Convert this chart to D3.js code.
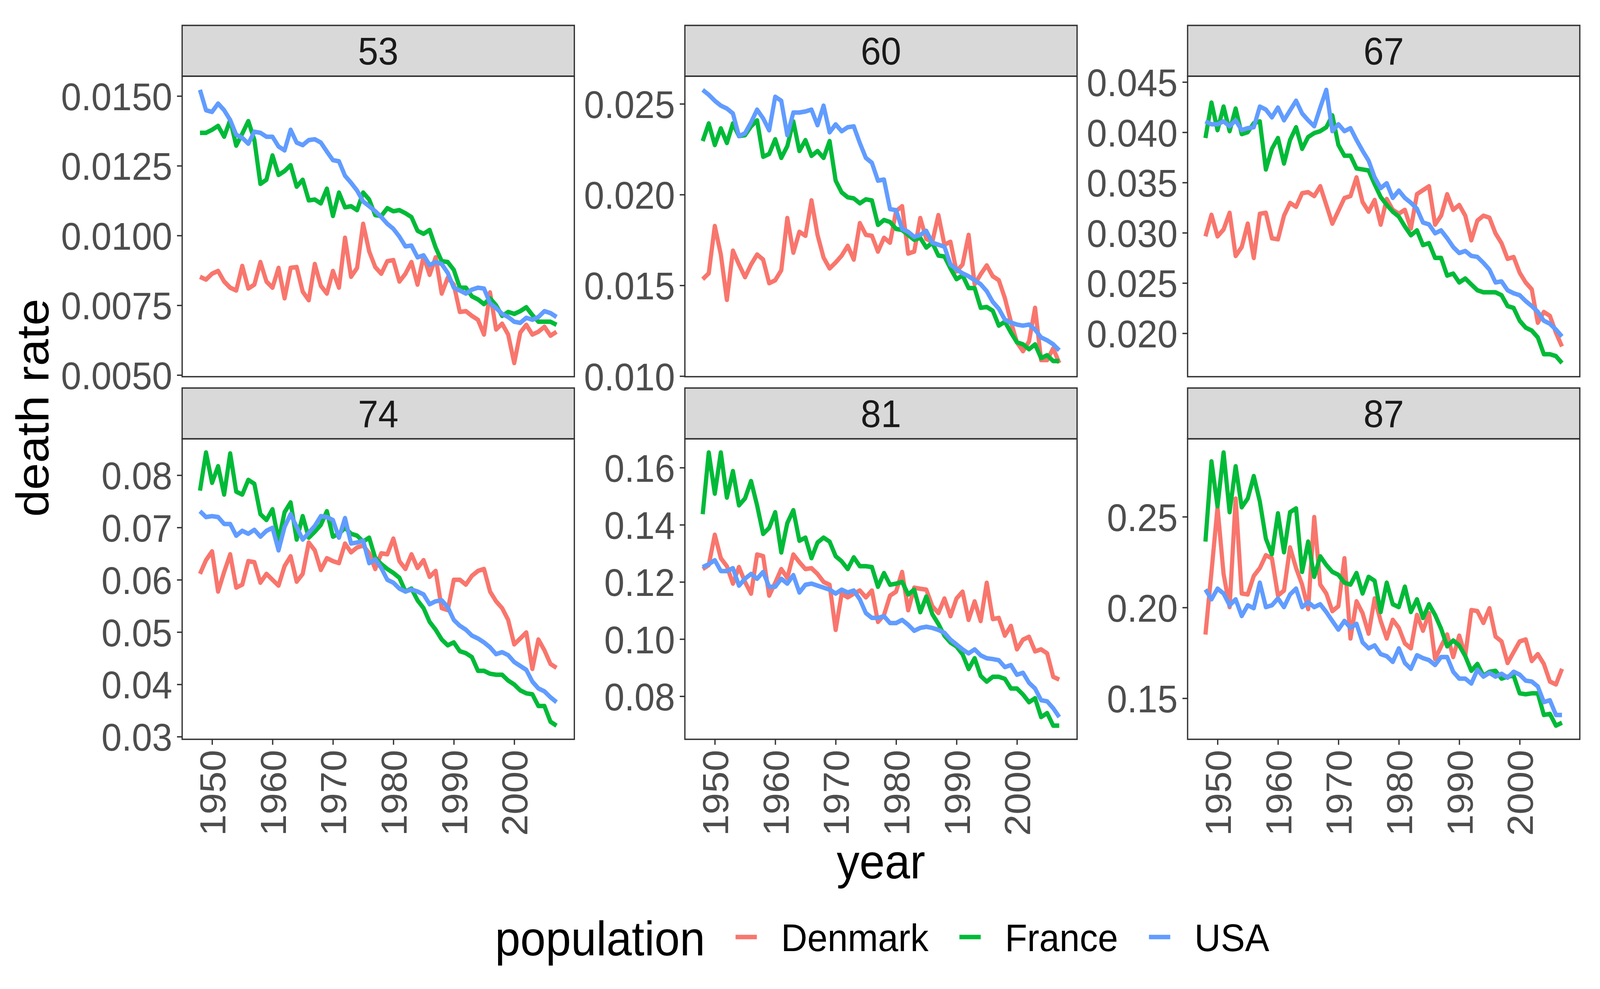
<!DOCTYPE html>
<html>
<head>
<meta charset="utf-8">
<script src="https://cdn.jsdelivr.net/npm/d3@7"></script>
<style>
  html, body { margin: 0; padding: 0; background: #fff; overflow: hidden; }
  svg { display: block; width: 100vw; height: 100vh; }
</style>
</head>
<body>
<svg id="chart"></svg>
<script>
let width = 4357;
let height = 2531;
let font = '"Liberation Sans", Arial, sans-serif';

let years = [1948, 1949, 1950, 1951, 1952, 1953, 1954, 1955, 1956, 1957,
             1958, 1959, 1960, 1961, 1962, 1963, 1964, 1965, 1966, 1967,
             1968, 1969, 1970, 1971, 1972, 1973, 1974, 1975, 1976, 1977,
             1978, 1979, 1980, 1981, 1982, 1983, 1984, 1985, 1986, 1987,
             1988, 1989, 1990, 1991, 1992, 1993, 1994, 1995, 1996, 1997,
             1998, 1999, 2000, 2001, 2002, 2003, 2004, 2005, 2006, 2007];
let ages = ['53', '60', '67', '74', '81', '87'];
let populations = ['Denmark', 'France', 'USA'];
let colors = ['#F8766D', '#00BA38', '#619CFF'];
let xTicks = [1950, 1960, 1970, 1980, 1990, 2000];

// age 53
let denmark53 = [0.00852, 0.00842, 0.00863, 0.00873, 0.00835, 0.00813, 0.00803, 0.00891, 0.00810, 0.00824,
                 0.00905, 0.00835, 0.00813, 0.00884, 0.00775, 0.00884, 0.00887, 0.00799, 0.00768, 0.00898,
                 0.00820, 0.00792, 0.00873, 0.00813, 0.00992, 0.00852, 0.00884, 0.01042, 0.00943, 0.00887,
                 0.00863, 0.00908, 0.00912, 0.00835, 0.00863, 0.00905, 0.00824, 0.00926, 0.00859, 0.00922,
                 0.00792, 0.00849, 0.00824, 0.00726, 0.00729, 0.00712, 0.00698, 0.00645, 0.00796, 0.00663,
                 0.00684, 0.00645, 0.00543, 0.00652, 0.00680, 0.00645, 0.00655, 0.00673, 0.00641, 0.00655];
let france53 = [0.01368, 0.01368, 0.01379, 0.01393, 0.01354, 0.01414, 0.01322, 0.01365, 0.01410, 0.01343,
                0.01185, 0.01200, 0.01287, 0.01217, 0.01231, 0.01252, 0.01175, 0.01200, 0.01126, 0.01129,
                0.01115, 0.01168, 0.01070, 0.01154, 0.01101, 0.01105, 0.01091, 0.01154, 0.01129, 0.01073,
                0.01070, 0.01098, 0.01087, 0.01091, 0.01080, 0.01066, 0.01017, 0.01006, 0.01020, 0.00957,
                0.00908, 0.00905, 0.00877, 0.00813, 0.00813, 0.00782, 0.00771, 0.00754, 0.00775, 0.00750,
                0.00712, 0.00726, 0.00719, 0.00729, 0.00743, 0.00715, 0.00691, 0.00691, 0.00691, 0.00680];
let usa53 = [0.01522, 0.01449, 0.01443, 0.01473, 0.01449, 0.01414, 0.01361, 0.01350, 0.01329, 0.01372,
             0.01368, 0.01354, 0.01354, 0.01319, 0.01305, 0.01379, 0.01333, 0.01324, 0.01342, 0.01345,
             0.01333, 0.01301, 0.01270, 0.01266, 0.01214, 0.01189, 0.01161, 0.01122, 0.01105, 0.01087,
             0.01066, 0.01042, 0.01024, 0.00996, 0.00961, 0.00964, 0.00922, 0.00929, 0.00894, 0.00905,
             0.00898, 0.00866, 0.00813, 0.00803, 0.00792, 0.00806, 0.00813, 0.00810, 0.00757, 0.00740,
             0.00719, 0.00708, 0.00691, 0.00687, 0.00705, 0.00698, 0.00708, 0.00729, 0.00722, 0.00708];

// age 60
let denmark60 = [0.01534, 0.01566, 0.01827, 0.01670, 0.01420, 0.01691, 0.01615, 0.01545, 0.01615, 0.01670,
                 0.01642, 0.01512, 0.01528, 0.01583, 0.01871, 0.01680, 0.01795, 0.01773, 0.01968, 0.01778,
                 0.01653, 0.01593, 0.01626, 0.01664, 0.01718, 0.01642, 0.01843, 0.01778, 0.01773, 0.01686,
                 0.01762, 0.01735, 0.01909, 0.01936, 0.01675, 0.01686, 0.01871, 0.01756, 0.01740, 0.01887,
                 0.01724, 0.01740, 0.01577, 0.01615, 0.01778, 0.01506, 0.01561, 0.01610, 0.01550, 0.01528,
                 0.01430, 0.01300, 0.01186, 0.01137, 0.01191, 0.01376, 0.01088, 0.01088, 0.01153, 0.01072];
let france60 = [0.02295, 0.02392, 0.02273, 0.02365, 0.02284, 0.02392, 0.02322, 0.02327, 0.02376, 0.02409,
                0.02208, 0.02224, 0.02305, 0.02202, 0.02267, 0.02403, 0.02240, 0.02300, 0.02213, 0.02240,
                0.02202, 0.02295, 0.02077, 0.02012, 0.01985, 0.01979, 0.01952, 0.01974, 0.01968, 0.01833,
                0.01860, 0.01849, 0.01811, 0.01805, 0.01778, 0.01751, 0.01762, 0.01708, 0.01735, 0.01664,
                0.01659, 0.01593, 0.01534, 0.01555, 0.01485, 0.01485, 0.01376, 0.01381, 0.01360, 0.01278,
                0.01300, 0.01240, 0.01186, 0.01175, 0.01148, 0.01175, 0.01099, 0.01115, 0.01083, 0.01083];
let usa60 = [0.02577, 0.02550, 0.02517, 0.02490, 0.02474, 0.02447, 0.02322, 0.02338, 0.02398, 0.02468,
             0.02420, 0.02354, 0.02539, 0.02517, 0.02327, 0.02452, 0.02452, 0.02458, 0.02468, 0.02382,
             0.02490, 0.02343, 0.02387, 0.02349, 0.02371, 0.02376, 0.02284, 0.02202, 0.02175, 0.02077,
             0.02083, 0.01920, 0.01914, 0.01811, 0.01795, 0.01767, 0.01778, 0.01800, 0.01735, 0.01724,
             0.01713, 0.01615, 0.01588, 0.01566, 0.01550, 0.01528, 0.01506, 0.01468, 0.01409, 0.01371,
             0.01311, 0.01295, 0.01284, 0.01278, 0.01284, 0.01256, 0.01213, 0.01197, 0.01175, 0.01142];

// age 67
let denmark67 = [0.02964, 0.03179, 0.02964, 0.03033, 0.03199, 0.02769, 0.02857, 0.03091, 0.02749, 0.03189,
                 0.03199, 0.02945, 0.02935, 0.03170, 0.03297, 0.03258, 0.03394, 0.03404, 0.03365, 0.03463,
                 0.03277, 0.03091, 0.03218, 0.03346, 0.03365, 0.03551, 0.03306, 0.03210, 0.03326, 0.03081,
                 0.03336, 0.03228, 0.03190, 0.03228, 0.03042, 0.03384, 0.03424, 0.03463, 0.03081, 0.03170,
                 0.03384, 0.03228, 0.03277, 0.03170, 0.02925, 0.03121, 0.03170, 0.03150, 0.02994, 0.02896,
                 0.02740, 0.02759, 0.02603, 0.02505, 0.02437, 0.02105, 0.02212, 0.02173, 0.02006, 0.01869];
let france67 = [0.03943, 0.04295, 0.04021, 0.04256, 0.04011, 0.04236, 0.03982, 0.04001, 0.04090, 0.04109,
                0.03630, 0.03835, 0.03943, 0.03689, 0.03923, 0.04050, 0.03835, 0.03953, 0.03992, 0.04011,
                0.04050, 0.04168, 0.03874, 0.03767, 0.03767, 0.03640, 0.03630, 0.03620, 0.03483, 0.03356,
                0.03278, 0.03210, 0.03161, 0.03063, 0.02975, 0.03024, 0.02877, 0.02897, 0.02750, 0.02750,
                0.02574, 0.02594, 0.02506, 0.02545, 0.02486, 0.02428, 0.02408, 0.02408, 0.02408, 0.02379,
                0.02271, 0.02252, 0.02125, 0.02056, 0.02027, 0.01959, 0.01792, 0.01792, 0.01773, 0.01704];
let usa67 = [0.04109, 0.04080, 0.04080, 0.04109, 0.04060, 0.04119, 0.04021, 0.04041, 0.04050, 0.04256,
             0.04226, 0.04148, 0.04246, 0.04119, 0.04217, 0.04314, 0.04187, 0.04119, 0.04060, 0.04246,
             0.04422, 0.04011, 0.04080, 0.04011, 0.04041, 0.03923, 0.03816, 0.03718, 0.03552, 0.03444,
             0.03493, 0.03347, 0.03420, 0.03347, 0.03298, 0.03239, 0.03102, 0.03083, 0.02995, 0.03024,
             0.02946, 0.02858, 0.02799, 0.02819, 0.02770, 0.02760, 0.02701, 0.02633, 0.02506, 0.02516,
             0.02428, 0.02398, 0.02379, 0.02320, 0.02271, 0.02213, 0.02125, 0.02095, 0.02037, 0.01968];

// age 74
let denmark74 = [0.06113, 0.06375, 0.06543, 0.05775, 0.06150, 0.06487, 0.05850, 0.05907, 0.06356, 0.06337,
                 0.05944, 0.06113, 0.06000, 0.05888, 0.06262, 0.06450, 0.05963, 0.06113, 0.06712, 0.06562,
                 0.06187, 0.06412, 0.06356, 0.06318, 0.06693, 0.06524, 0.06618, 0.06655, 0.06506, 0.06206,
                 0.06506, 0.06487, 0.06787, 0.06356, 0.06206, 0.06487, 0.06225, 0.06375, 0.06056, 0.06169,
                 0.05457, 0.05420, 0.06000, 0.06000, 0.05907, 0.06075, 0.06169, 0.06206, 0.05775, 0.05588,
                 0.05457, 0.05232, 0.04764, 0.04877, 0.04992, 0.04296, 0.04858, 0.04652, 0.04390, 0.04315];
let france74 = [0.07704, 0.08434, 0.07854, 0.08172, 0.07629, 0.08416, 0.07685, 0.07629, 0.07910, 0.07835,
                0.07255, 0.07142, 0.07348, 0.06749, 0.07292, 0.07479, 0.06768, 0.07217, 0.06805, 0.06918,
                0.07049, 0.07311, 0.06824, 0.06880, 0.06993, 0.06880, 0.06843, 0.06730, 0.06805, 0.06420,
                0.06300, 0.06206, 0.06131, 0.06038, 0.05775, 0.05832, 0.05607, 0.05457, 0.05195, 0.05045,
                0.04858, 0.04746, 0.04802, 0.04633, 0.04596, 0.04521, 0.04259, 0.04259, 0.04203, 0.04184,
                0.04184, 0.04072, 0.03997, 0.03884, 0.03828, 0.03810, 0.03585, 0.03585, 0.03285, 0.03210];
let usa74 = [0.07311, 0.07199, 0.07217, 0.07199, 0.07067, 0.07067, 0.06843, 0.06936, 0.06880, 0.06955,
             0.06824, 0.06936, 0.06993, 0.06562, 0.07011, 0.07255, 0.07011, 0.06768, 0.06899, 0.07030,
             0.07217, 0.07199, 0.07142, 0.06805, 0.07180, 0.06693, 0.06712, 0.06749, 0.06318, 0.06393,
             0.06225, 0.06000, 0.05944, 0.05832, 0.05775, 0.05813, 0.05775, 0.05719, 0.05532, 0.05588,
             0.05607, 0.05476, 0.05232, 0.05120, 0.05045, 0.04933, 0.04877, 0.04802, 0.04708, 0.04577,
             0.04615, 0.04558, 0.04427, 0.04352, 0.04277, 0.04053, 0.03922, 0.03866, 0.03753, 0.03660];

// age 81
let denmark81 = [0.1245, 0.1259, 0.1365, 0.1283, 0.1255, 0.1194, 0.1252, 0.1200, 0.1159, 0.1296,
                 0.1290, 0.1152, 0.1197, 0.1245, 0.1214, 0.1296, 0.1269, 0.1245, 0.1248, 0.1228,
                 0.1200, 0.1190, 0.1032, 0.1159, 0.1146, 0.1159, 0.1170, 0.1146, 0.1170, 0.1060,
                 0.1084, 0.1152, 0.1166, 0.1235, 0.1101, 0.1180, 0.1176, 0.1173, 0.1115, 0.1091,
                 0.1142, 0.1080, 0.1142, 0.1166, 0.1067, 0.1132, 0.1063, 0.1197, 0.1070, 0.1074,
                 0.1012, 0.1046, 0.0964, 0.0998, 0.1008, 0.0957, 0.0964, 0.0950, 0.0868, 0.0858];
let france81 = [0.1437, 0.1653, 0.1509, 0.1653, 0.1495, 0.1588, 0.1468, 0.1492, 0.1553, 0.1468,
                0.1368, 0.1389, 0.1444, 0.1303, 0.1406, 0.1451, 0.1344, 0.1355, 0.1283, 0.1338,
                0.1355, 0.1341, 0.1290, 0.1272, 0.1245, 0.1286, 0.1255, 0.1255, 0.1252, 0.1183,
                0.1231, 0.1190, 0.1194, 0.1200, 0.1156, 0.1173, 0.1094, 0.1149, 0.1087, 0.1053,
                0.1012, 0.0988, 0.0974, 0.0947, 0.0895, 0.0933, 0.0871, 0.0851, 0.0868, 0.0868,
                0.0861, 0.0827, 0.0827, 0.0806, 0.0779, 0.0793, 0.0727, 0.0741, 0.0697, 0.0697];
let usa81 = [0.1252, 0.1262, 0.1276, 0.1238, 0.1238, 0.1248, 0.1187, 0.1211, 0.1228, 0.1211,
             0.1235, 0.1183, 0.1183, 0.1211, 0.1194, 0.1224, 0.1163, 0.1190, 0.1194, 0.1187,
             0.1180, 0.1173, 0.1159, 0.1173, 0.1163, 0.1170, 0.1139, 0.1091, 0.1074, 0.1074,
             0.1080, 0.1056, 0.1056, 0.1067, 0.1050, 0.1029, 0.1039, 0.1043, 0.1039, 0.1032,
             0.1022, 0.0998, 0.0981, 0.0964, 0.0950, 0.0964, 0.0943, 0.0933, 0.0930, 0.0926,
             0.0902, 0.0909, 0.0875, 0.0882, 0.0847, 0.0827, 0.0786, 0.0782, 0.0758, 0.0727];

// age 87
let denmark87 = [0.1851, 0.2196, 0.2552, 0.2185, 0.2002, 0.2600, 0.2077, 0.2072, 0.2174, 0.2217,
                 0.2288, 0.2271, 0.2066, 0.2093, 0.2331, 0.2217, 0.2126, 0.1991, 0.2498, 0.2126,
                 0.2077, 0.1980, 0.2007, 0.2271, 0.1829, 0.2034, 0.1969, 0.1856, 0.2050, 0.1926,
                 0.1829, 0.1932, 0.1888, 0.1802, 0.1775, 0.1959, 0.1872, 0.1969, 0.1716, 0.1786,
                 0.1851, 0.1727, 0.1845, 0.1737, 0.1986, 0.1980, 0.1915, 0.1996, 0.1840, 0.1813,
                 0.1694, 0.1754, 0.1813, 0.1824, 0.1705, 0.1743, 0.1689, 0.1592, 0.1576, 0.1662];
let france87 = [0.2363, 0.2805, 0.2557, 0.2854, 0.2525, 0.2778, 0.2552, 0.2600, 0.2724, 0.2584,
                0.2379, 0.2293, 0.2519, 0.2304, 0.2525, 0.2546, 0.2196, 0.2363, 0.2169, 0.2282,
                0.2234, 0.2196, 0.2180, 0.2137, 0.2126, 0.2190, 0.2077, 0.2169, 0.2147, 0.1975,
                0.2137, 0.2018, 0.2002, 0.2115, 0.1975, 0.2045, 0.1942, 0.2018, 0.1959, 0.1883,
                0.1786, 0.1818, 0.1791, 0.1732, 0.1651, 0.1689, 0.1624, 0.1646, 0.1651, 0.1608,
                0.1619, 0.1624, 0.1527, 0.1522, 0.1527, 0.1527, 0.1408, 0.1414, 0.1349, 0.1365];
let usa87 = [0.2099, 0.2045, 0.2104, 0.2077, 0.2012, 0.2045, 0.1953, 0.2012, 0.1996, 0.2137,
             0.2002, 0.2012, 0.2050, 0.2002, 0.2072, 0.2104, 0.2002, 0.2029, 0.2002, 0.2018,
             0.1975, 0.1926, 0.1878, 0.1926, 0.1888, 0.1910, 0.1808, 0.1775, 0.1791, 0.1743,
             0.1732, 0.1700, 0.1775, 0.1694, 0.1662, 0.1737, 0.1721, 0.1710, 0.1683, 0.1727,
             0.1727, 0.1646, 0.1608, 0.1608, 0.1581, 0.1657, 0.1619, 0.1640, 0.1619, 0.1635,
             0.1613, 0.1646, 0.1630, 0.1597, 0.1592, 0.1565, 0.1479, 0.1489, 0.1408, 0.1408];

// y tick labels per panel
let yTicks53 = [0.0050, 0.0075, 0.0100, 0.0125, 0.0150];
let yTicks60 = [0.010, 0.015, 0.020, 0.025];
let yTicks67 = [0.020, 0.025, 0.030, 0.035, 0.040, 0.045];
let yTicks74 = [0.03, 0.04, 0.05, 0.06, 0.07, 0.08];
let yTicks81 = [0.08, 0.10, 0.12, 0.14, 0.16];
let yTicks87 = [0.15, 0.20, 0.25];

let panels = [
    {age: ages[0], series: [denmark53, france53, usa53], ticks: yTicks53, fmt: '.4f'},
    {age: ages[1], series: [denmark60, france60, usa60], ticks: yTicks60, fmt: '.3f'},
    {age: ages[2], series: [denmark67, france67, usa67], ticks: yTicks67, fmt: '.3f'},
    {age: ages[3], series: [denmark74, france74, usa74], ticks: yTicks74, fmt: '.2f'},
    {age: ages[4], series: [denmark81, france81, usa81], ticks: yTicks81, fmt: '.2f'},
    {age: ages[5], series: [denmark87, france87, usa87], ticks: yTicks87, fmt: '.2f'}
];

// layout
let colLeft = [496, 1865, 3234];
let rowTop = [195, 1123];
let panelW = 1068;
let panelH = 769;
let stripH = 130;
let tickLen = 14;
let tickPad = 13;
let bigSize = 124;
let smallSize = 99;
let dark = '#333333';

// ggplot-style 5% expansion
let expand = ext => {
    let pad = (ext[1] - ext[0]) * 0.05;
    return [ext[0] - pad, ext[1] + pad];
};

let xScale = d3.scaleLinear()
                .domain(expand(d3.extent(years)))
                .range([0, panelW]);

// the drawing is laid out on a 4357 x 2531 canvas and stretched to fill the window
let svg = d3.select('#chart')
            .attr('viewBox', `0 0 ${width} ${height}`)
            .attr('preserveAspectRatio', 'none')
            .style('font-family', font);

svg.append('rect')
    .attr('width', width)
    .attr('height', height)
    .attr('fill', '#ffffff');

panels.forEach((p, i) => {
    let col = i % 3;
    let row = Math.floor(i / 3);
    let g = svg.append('g')
                .attr('transform', `translate(${colLeft[col]},${rowTop[row]})`);

    let yScale = d3.scaleLinear()
                    .domain(expand(d3.extent(p.series.flat())))
                    .range([panelH, 0]);

    // strip
    g.append('rect')
        .attr('x', 0)
        .attr('y', -stripH)
        .attr('width', panelW)
        .attr('height', stripH)
        .attr('fill', '#D9D9D9')
        .attr('stroke', dark)
        .attr('stroke-width', 3.5);
    g.append('text')
        .attr('x', panelW / 2)
        .attr('y', -stripH / 2)
        .attr('text-anchor', 'middle')
        .attr('dominant-baseline', 'central')
        .attr('font-size', smallSize)
        .attr('fill', '#1A1A1A')
        .text(p.age);

    // lines
    let line = d3.line()
                    .x((d, j) => xScale(years[j]))
                    .y(d => yScale(d));
    p.series.forEach((s, k) => {
        g.append('path')
            .datum(s)
            .attr('d', line)
            .attr('fill', 'none')
            .attr('stroke', colors[k])
            .attr('stroke-width', 11.5)
            .attr('stroke-linejoin', 'round');
    });

    // panel border
    g.append('rect')
        .attr('width', panelW)
        .attr('height', panelH)
        .attr('fill', 'none')
        .attr('stroke', dark)
        .attr('stroke-width', 3.5);

    // y axis
    let ya = g.append('g')
                .call(d3.axisLeft(yScale)
                        .tickValues(p.ticks)
                        .tickFormat(d3.format(p.fmt))
                        .tickSize(tickLen)
                        .tickPadding(tickPad))
                .attr('font-family', null)
                .attr('font-size', null);
    ya.select('.domain').remove();
    ya.selectAll('line').attr('stroke', dark).attr('stroke-width', 3.5);
    ya.selectAll('text')
        .attr('font-size', smallSize)
        .attr('fill', '#4D4D4D')
        .attr('dy', '0.36em');

    // x axis
    let xa = g.append('g')
                .attr('transform', `translate(0,${panelH})`)
                .call(d3.axisBottom(xScale)
                        .tickValues(xTicks)
                        .tickFormat(d3.format('d'))
                        .tickSize(tickLen))
                .attr('font-family', null)
                .attr('font-size', null);
    xa.select('.domain').remove();
    xa.selectAll('line').attr('stroke', dark).attr('stroke-width', 3.5);
    if (row === 1) {
        xa.selectAll('text')
            .attr('font-size', smallSize)
            .attr('fill', '#4D4D4D')
            .attr('transform', 'rotate(-90)')
            .attr('text-anchor', 'end')
            .attr('x', -(tickLen + tickPad))
            .attr('y', 0)
            .attr('dy', '0.36em');
    } else {
        xa.selectAll('text').remove();
        xa.selectAll('line').remove();
    }
});

// axis titles
svg.append('text')
    .attr('transform', `translate(132,${(rowTop[0] + rowTop[1] + panelH) / 2}) rotate(-90)`)
    .attr('text-anchor', 'middle')
    .attr('font-size', bigSize)
    .attr('fill', '#000000')
    .text('death rate');

svg.append('text')
    .attr('x', colLeft[1] + panelW / 2)
    .attr('y', 2248)
    .attr('text-anchor', 'middle')
    .attr('font-size', bigSize)
    .attr('fill', '#000000')
    .text('year');

// legend
let legendY = 2398;
let legend = svg.append('g');
legend.append('text')
    .attr('x', 1348)
    .attr('y', legendY + 47)
    .attr('font-size', bigSize)
    .attr('fill', '#000000')
    .text('population');

let kx = 2003;
populations.forEach((name, k) => {
    legend.append('line')
        .attr('x1', kx)
        .attr('x2', kx + 58)
        .attr('y1', legendY)
        .attr('y2', legendY)
        .attr('stroke', colors[k])
        .attr('stroke-width', 11.5);
    let label = legend.append('text')
                    .attr('x', kx + 124)
                    .attr('y', legendY)
                    .attr('dy', '0.36em')
                    .attr('font-size', smallSize)
                    .attr('fill', '#000000')
                    .text(name);
    kx = kx + 124 + label.node().getComputedTextLength() + 84;
});
</script>
</body>
</html>
